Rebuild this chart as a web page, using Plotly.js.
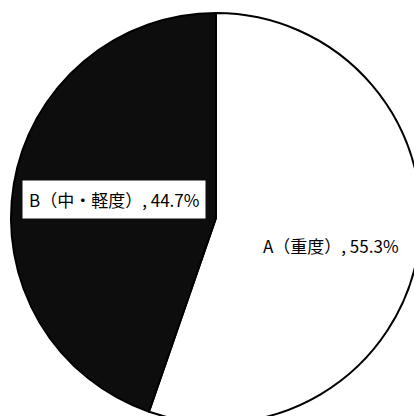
<!DOCTYPE html>
<html>
<head>
<meta charset="utf-8">
<script src="https://cdn.plot.ly/plotly-3.0.1.min.js"></script>
<style>
html, body { margin: 0; padding: 0; overflow: hidden; background: #fff; }
#chart { width: 432px; height: 436px; }
</style>
</head>
<body>
<div id="chart"></div>
<script>
const labels = ["A（重度）", "B（中・軽度）"];
const values = [55.3, 44.7];
const colors = ["#ffffff", "#0d0d0d"];

const W = 432, H = 436;
const labelPos = [[331, 245], [114, 199.5]];
const labelBg = ["rgba(0,0,0,0)", "#ffffff"];

const annotations = labels.map((l, i) => ({
  text: l + ", " + values[i].toFixed(1) + "%",
  xref: "paper", yref: "paper",
  x: labelPos[i][0] / W, y: 1 - labelPos[i][1] / H,
  xanchor: "center", yanchor: "middle",
  showarrow: false,
  bgcolor: labelBg[i],
  borderpad: 6,
  font: { family: "Noto Sans CJK JP", size: 17, color: "#000" }
}));

const data = [{
  type: "pie",
  labels: labels,
  values: values,
  sort: false,
  direction: "clockwise",
  rotation: 0,
  textinfo: "none",
  hoverinfo: "skip",
  marker: { colors: colors, line: { color: "#000", width: 2 } },
  domain: { x: [11 / W, 421 / W], y: [13 / H, 423 / H] },
  showlegend: false
}];

const layout = {
  width: W, height: H,
  margin: { l: 0, r: 0, t: 0, b: 0 },
  paper_bgcolor: "#fff",
  showlegend: false,
  annotations: annotations
};

Plotly.newPlot("chart", data, layout, { staticPlot: true, displayModeBar: false });
</script>
</body>
</html>
